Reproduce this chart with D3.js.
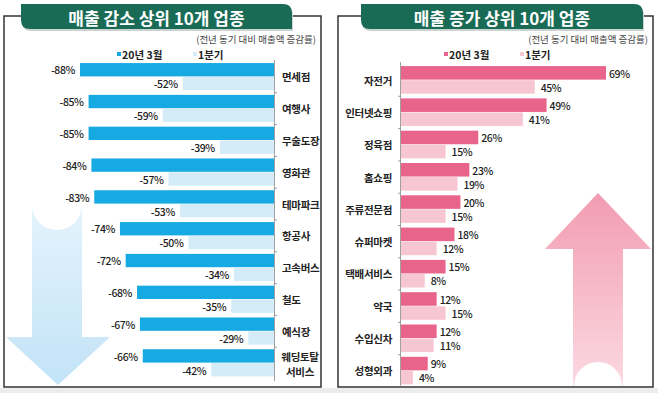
<!DOCTYPE html>
<html>
<head>
<meta charset="utf-8">
<script src="https://cdn.jsdelivr.net/npm/d3@7"></script>
<style>
  body { margin: 0; background: #fff; }
  text { font-family: "Noto Sans CJK KR", "Noto Sans", sans-serif; }
</style>
</head>
<body>
<div class="canvas"></div>
<script>
// data
const decCats = ['면세점', '여행사', '무술도장', '영화관', '테마파크', '항공사', '고속버스', '철도', '예식장', '웨딩토탈 서비스'];
const decMar = [-88, -85, -85, -84, -83, -74, -72, -68, -67, -66];
const decQ1 = [-52, -59, -39, -57, -53, -50, -34, -35, -29, -42];

const incCats = ['자전거', '인터넷쇼핑', '정육점', '홈쇼핑', '주류전문점', '슈퍼마켓', '택배서비스', '약국', '수입신차', '성형외과'];
const incMar = [69, 49, 26, 23, 20, 18, 15, 12, 12, 9];
const incQ1 = [45, 41, 15, 19, 15, 12, 8, 15, 11, 4];

const seriesNames = ['20년 3월', '1분기'];
const titles = ['매출 감소 상위 10개 업종', '매출 증가 상위 10개 업종'];
const subtitle = '(전년 동기 대비 매출액 증감률)';

const svg = d3.select('.canvas')
    .append('svg')
    .attr('width', 658)
    .attr('height', 393);

const defs = svg.append('defs');

function grad(id, top, bottom) {
    const g = defs.append('linearGradient').attr('id', id)
        .attr('x1', 0).attr('y1', 0).attr('x2', 0).attr('y2', 1);
    g.append('stop').attr('offset', '0%').attr('stop-color', top);
    g.append('stop').attr('offset', '100%').attr('stop-color', bottom);
}
grad('blueArrow', '#e4f3fc', '#c2e3f7');
grad('pinkArrow', '#f29cb1', '#fbd9e1');

svg.append('rect').attr('x', 0).attr('y', 388).attr('width', 658).attr('height', 5).attr('fill', '#ececec');

// big arrows behind everything
svg.append('path')
    .attr('d', 'M32,205 A25,25 0 0 0 82,205 L82,337 L110,337 L58,385 L6,337 L32,337 Z')
    .attr('fill', 'url(#blueArrow)');
svg.append('path')
    .attr('d', 'M573,249 L545,249 L598,193 L651,249 L623,249 L623,386 L622,386 A24,24 0 0 0 574,386 L573,386 Z')
    .attr('fill', 'url(#pinkArrow)');

// panel frames + title tabs
function panel(x0, x1, tab0, tab1, title) {
    const top = 16, bottom = 387;
    svg.append('path')
        .attr('d', `M${tab0},${top} L${x0},${top} L${x0},${bottom} L${x1},${bottom} L${x1},${top} L${tab1},${top}`)
        .attr('fill', 'none').attr('stroke', '#333').attr('stroke-width', 1.5);
    const r = 9;
    const tabPath = (dx, dy) => `M${tab0 + dx},${4 + dy} L${tab1 - r + dx},${4 + dy} Q${tab1 + dx},${4 + dy} ${tab1 + dx},${4 + r + dy} L${tab1 + dx},${29 + dy} L${tab0 + r + dx},${29 + dy} Q${tab0 + dx},${29 + dy} ${tab0 + dx},${29 - r + dy} Z`;
    svg.append('path').attr('d', tabPath(1, 2)).attr('fill', '#c9d3cf');
    svg.append('path').attr('d', tabPath(0, 0)).attr('fill', '#196b56');
    svg.append('text')
        .attr('x', (tab0 + tab1) / 2).attr('y', 17)
        .attr('text-anchor', 'middle').attr('dominant-baseline', 'central')
        .attr('fill', '#fff').attr('font-size', 17).attr('font-weight', 700)
        .text(title);
}
panel(4, 321, 21, 292, titles[0]);
panel(338, 653, 361, 643, titles[1]);

function legend(xSub, ySub, items) {
    svg.append('text')
        .attr('x', xSub).attr('y', ySub)
        .attr('text-anchor', 'end').attr('dominant-baseline', 'central')
        .attr('font-size', 9.5).attr('fill', '#444')
        .text(subtitle);
    items.forEach(it => {
        svg.append('rect').attr('x', it.x).attr('y', 52).attr('width', 4).attr('height', 4).attr('fill', it.color);
        svg.append('text')
            .attr('x', it.x + 5).attr('y', 54.5)
            .attr('dominant-baseline', 'central')
            .attr('font-size', 10.5).attr('font-weight', 700).attr('fill', '#222')
            .text(it.name);
    });
}

const labelSize = 10.5;

// ---------- left panel: decrease ----------
const leftCol = ['#17a9e1', '#d3ecf8'];
const yL = d3.scaleBand().domain(decCats).range([61, 379]).paddingInner(0.13).paddingOuter(0.065);
const subL = d3.scaleBand().domain([0, 1]).range([0, yL.bandwidth()]);
const xL = d3.scaleLinear().domain([-20, -88]).range([274, 80]);

legend(316, 39, [
    {x: 117, name: seriesNames[0], color: leftCol[0]},
    {x: 193, name: seriesNames[1], color: leftCol[1]}
]);

const decData = decCats.map((c, i) => ({cat: c, vals: [decMar[i], decQ1[i]]}));
const gL = svg.append('g');
decData.forEach(d => {
    d.vals.forEach((v, k) => {
        gL.append('rect')
            .attr('x', xL(v)).attr('y', yL(d.cat) + subL(k))
            .attr('width', xL(-20) - xL(v)).attr('height', subL.bandwidth() - 0.5)
            .attr('fill', leftCol[k]);
        gL.append('text')
            .attr('x', xL(v) - 5).attr('y', yL(d.cat) + subL(k) + subL.bandwidth() / 2)
            .attr('text-anchor', 'end').attr('dominant-baseline', 'central')
            .attr('font-size', 10.5).attr('font-weight', 500).attr('letter-spacing', -0.4).attr('fill', '#222')
            .text(v + '%');
    });
    const parts = d.cat.split(' ');
    const t = gL.append('text')
        .attr('font-size', labelSize).attr('font-weight', 700).attr('letter-spacing', -0.3).attr('fill', '#222')
        .attr('dominant-baseline', 'central');
    if (parts.length === 1) {
        t.attr('x', 282).attr('y', yL(d.cat) + yL.bandwidth() / 2).text(d.cat);
    } else {
        t.attr('text-anchor', 'middle');
        parts.forEach((p, j) => {
            t.append('tspan').attr('x', 300)
                .attr('y', yL(d.cat) + yL.bandwidth() / 2 + (j - 0.5) * 15)
                .text(p);
        });
    }
});
// axis line with ticks between groups
gL.append('line').attr('x1', 274.5).attr('x2', 274.5).attr('y1', 60).attr('y2', 381)
    .attr('stroke', '#888').attr('stroke-width', 0.8);
gL.selectAll('.tk').data(decCats.slice(1)).enter().append('line')
    .attr('x1', 274.5).attr('x2', 277)
    .attr('y1', d => yL(d) - yL.step() * yL.paddingInner() / 2)
    .attr('y2', d => yL(d) - yL.step() * yL.paddingInner() / 2)
    .attr('stroke', '#888').attr('stroke-width', 0.8);

// ---------- right panel: increase ----------
const rightCol = ['#e8648b', '#f7c6d3'];
const yR = d3.scaleBand().domain(incCats).range([64, 387]).paddingInner(0.13).paddingOuter(0.065);
const subR = d3.scaleBand().domain([0, 1]).range([0, yR.bandwidth()]);
const xR = d3.scaleLinear().domain([0, 69]).range([401, 606]);

legend(648, 39, [
    {x: 444, name: seriesNames[0], color: rightCol[0]},
    {x: 520, name: seriesNames[1], color: rightCol[1]}
]);

const incData = incCats.map((c, i) => ({cat: c, vals: [incMar[i], incQ1[i]]}));
const gR = svg.append('g');
incData.forEach(d => {
    d.vals.forEach((v, k) => {
        gR.append('rect')
            .attr('x', xR(0)).attr('y', yR(d.cat) + subR(k))
            .attr('width', xR(v) - xR(0)).attr('height', subR.bandwidth() - 0.5)
            .attr('fill', rightCol[k]);
        gR.append('text')
            .attr('x', xR(v) + (k === 0 ? 3 : 6)).attr('y', yR(d.cat) + subR(k) + subR.bandwidth() / 2)
            .attr('dominant-baseline', 'central')
            .attr('font-size', 10.5).attr('font-weight', 500).attr('letter-spacing', -0.4).attr('fill', '#222')
            .text(v + '%');
    });
    gR.append('text')
        .attr('x', 392).attr('y', yR(d.cat) + yR.bandwidth() / 2)
        .attr('text-anchor', 'end').attr('dominant-baseline', 'central')
        .attr('font-size', labelSize).attr('font-weight', 700).attr('letter-spacing', -0.3).attr('fill', '#222')
        .text(d.cat);
});
gR.append('line').attr('x1', 400.5).attr('x2', 400.5).attr('y1', 62).attr('y2', 387)
    .attr('stroke', '#888').attr('stroke-width', 0.8);
gR.selectAll('.tk').data(incCats.slice(1)).enter().append('line')
    .attr('x1', 398).attr('x2', 400.5)
    .attr('y1', d => yR(d) - yR.step() * yR.paddingInner() / 2)
    .attr('y2', d => yR(d) - yR.step() * yR.paddingInner() / 2)
    .attr('stroke', '#888').attr('stroke-width', 0.8);
</script>
</body>
</html>
